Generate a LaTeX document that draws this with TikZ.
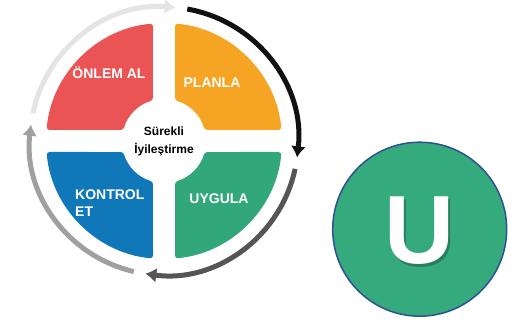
\documentclass[tikz,border=0pt]{standalone}
\usepackage{fontspec}
\setmainfont{Liberation Sans}
\usetikzlibrary{arrows.meta}
\definecolor{qred}{RGB}{234,84,84}
\definecolor{qorange}{RGB}{245,164,35}
\definecolor{qblue}{RGB}{16,120,184}
\definecolor{qgreen}{RGB}{50,168,122}
\definecolor{ugreen}{RGB}{53,170,125}
\definecolor{uborder}{RGB}{47,80,145}
\definecolor{cdark}{RGB}{17,17,17}
\definecolor{cgray}{RGB}{85,85,85}
\definecolor{cmid}{RGB}{160,160,160}
\definecolor{clight}{RGB}{228,228,228}
\tikzset{
  quad/.style={rounded corners=3pt},
  lbl/.style={text=white,font=\bfseries\fontsize{14}{17}\selectfont,inner sep=0pt},
  cyc/.style={line width=5pt,-{Latex[length=11pt,width=15pt]}},
}
\begin{document}
\begin{tikzpicture}[x=1pt,y=1pt]
\useasboundingbox (0,0) rectangle (515,326);
\coordinate (C) at (164,185);
\begin{scope}[shift={(C)}]
  \foreach \rot/\col in {0/qred,-90/qorange,180/qgreen,90/qblue}{
    \begin{scope}[rotate=\rot]
      \fill[\col,quad] (95.35:118) arc[start angle=95.35,end angle=174.65,radius=118]
        -- (164.8:42) arc[start angle=164.8,end angle=105.2,radius=42] -- cycle;
    \end{scope}
  }
  \draw[cyc,cdark] (80:134) arc[start angle=80,end angle=-7,radius=134];
  \draw[cyc,cgray] (-12:134) arc[start angle=-12,end angle=-98,radius=134];
  \draw[cyc,cmid] (-103:134) arc[start angle=-103,end angle=-187,radius=134];
  \draw[cyc,clight] (168:134) arc[start angle=168,end angle=85,radius=134];
\end{scope}
\node[lbl] (onlem) at (109,253) {ÖNLEM AL};
\node[lbl] (planla) at (212,243) {PLANLA};
\node[lbl,align=left,anchor=west] (kontrol) at (75,122.5) {KONTROL\\ET};
\node[lbl] (uygula) at (219,127) {UYGULA};
\node[font=\bfseries\fontsize{12}{18}\selectfont,align=center,inner sep=0pt] (center) at (C) {Sürekli\\İyileştirme};
\node[circle,draw=uborder,line width=1.5pt,fill=ugreen,minimum size=174pt,inner sep=0pt] (ucirc) at (419.7,96.8) {};
\node[text=black,opacity=0.25,font=\bfseries\fontsize{97}{97}\selectfont,inner sep=0pt] (ushadow) at (422,92.5) {U};
\node[text=white,font=\bfseries\fontsize{97}{97}\selectfont,inner sep=0pt] (uletter) at (419.7,95) {U};
\end{tikzpicture}
\end{document}
